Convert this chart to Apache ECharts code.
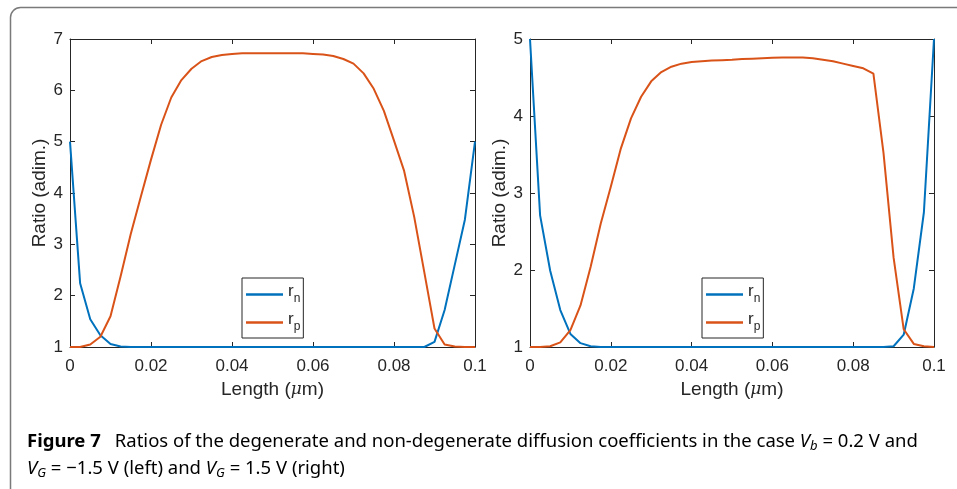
<!DOCTYPE html>
<html>
<head>
<meta charset="utf-8">
<script src="https://cdn.jsdelivr.net/npm/echarts@6/dist/echarts.min.js"></script>
<style>
  html, body { margin: 0; padding: 0; background: #fff; }
  #main { width: 957px; height: 489px; }
</style>
</head>
<body>
<div id="main"></div>
<script>
// x positions (Length, µm)
var lengths = [0, 0.0025, 0.005, 0.0075, 0.01, 0.0125, 0.015, 0.0175, 0.02, 0.0225,
  0.025, 0.0275, 0.03, 0.0325, 0.035, 0.0375, 0.04, 0.0425, 0.045, 0.0475,
  0.05, 0.0525, 0.055, 0.0575, 0.06, 0.0625, 0.065, 0.0675, 0.07, 0.0725,
  0.075, 0.0775, 0.08, 0.0825, 0.085, 0.0875, 0.09, 0.0925, 0.095, 0.0975, 0.1];

// left panel, V_G = -1.5 V
var leftRn = [5.0, 2.24, 1.54, 1.23, 1.06, 1.01, 1.0, 1.0, 1.0, 1.0,
  1.0, 1.0, 1.0, 1.0, 1.0, 1.0, 1.0, 1.0, 1.0, 1.0,
  1.0, 1.0, 1.0, 1.0, 1.0, 1.0, 1.0, 1.0, 1.0, 1.0,
  1.0, 1.0, 1.0, 1.0, 1.0, 1.0, 1.1, 1.72, 2.6, 3.48, 5.0];
var leftRp = [1.0, 1.0, 1.05, 1.2, 1.6, 2.38, 3.2, 3.93, 4.65, 5.33,
  5.86, 6.2, 6.42, 6.57, 6.65, 6.69, 6.71, 6.72, 6.72, 6.72,
  6.72, 6.72, 6.72, 6.72, 6.71, 6.7, 6.67, 6.61, 6.52, 6.33,
  6.03, 5.6, 5.02, 4.43, 3.53, 2.45, 1.36, 1.05, 1.01, 1.0, 1.0];

// right panel, V_G = 1.5 V
var rightRn = [5.0, 2.71, 1.99, 1.48, 1.17, 1.05, 1.01, 1.0, 1.0, 1.0,
  1.0, 1.0, 1.0, 1.0, 1.0, 1.0, 1.0, 1.0, 1.0, 1.0,
  1.0, 1.0, 1.0, 1.0, 1.0, 1.0, 1.0, 1.0, 1.0, 1.0,
  1.0, 1.0, 1.0, 1.0, 1.0, 1.0, 1.01, 1.16, 1.76, 2.75, 5.0];
var rightRp = [1.0, 1.0, 1.01, 1.06, 1.22, 1.54, 2.04, 2.6, 3.08, 3.58,
  3.97, 4.25, 4.45, 4.57, 4.64, 4.68, 4.7, 4.71, 4.72, 4.725,
  4.73, 4.74, 4.745, 4.75, 4.755, 4.76, 4.76, 4.76, 4.75, 4.73,
  4.71, 4.68, 4.65, 4.62, 4.55, 3.52, 2.16, 1.23, 1.04, 1.01, 1.0];

var xTicks = [0, 0.02, 0.04, 0.06, 0.08, 0.1];

var BLUE = '#0072BD';
var ORANGE = '#D95319';
var AX = '#262626';
var FONT = 'Liberation Sans, Arial';
var CAPFONT = 'Noto Sans';

function pairs(xs, ys) {
  return xs.map(function (x, i) { return [x, ys[i]]; });
}

function xAxisOf(grid, bottom) {
  return {
    type: 'value', gridIndex: grid, position: bottom ? 'bottom' : 'top',
    min: 0, max: 0.1, interval: 0.02,
    name: bottom ? '{a|Length (}{mu|μ}{a|m)}' : '',
    nameLocation: 'middle', nameGap: 33,
    nameTextStyle: {
      rich: {
        a: { fontFamily: FONT, fontSize: 19, color: AX },
        mu: { fontFamily: 'DejaVu Serif', fontStyle: 'italic', fontSize: 17, color: AX }
      }
    },
    axisLine: { show: true, onZero: false, lineStyle: { color: AX, width: 1 } },
    axisTick: { show: true, inside: true, length: 5, lineStyle: { color: AX } },
    axisLabel: { show: bottom, color: AX, fontFamily: FONT, fontSize: 17, margin: 11,
      formatter: function (v) { return xTicks.indexOf(Math.round(v * 100) / 100) >= 0 ? String(Math.round(v * 100) / 100) : ''; } },
    splitLine: { show: false }
  };
}

function yAxisOf(grid, left, max) {
  return {
    type: 'value', gridIndex: grid, position: left ? 'left' : 'right',
    min: 1, max: max, interval: 1,
    name: left ? 'Ratio (adim.)' : '',
    nameLocation: 'middle', nameGap: 18,
    nameTextStyle: { fontFamily: FONT, fontSize: 19, color: AX },
    axisLine: { show: true, onZero: false, lineStyle: { color: AX, width: 1 } },
    axisTick: { show: true, inside: true, length: 5, lineStyle: { color: AX } },
    axisLabel: { show: left, color: AX, fontFamily: FONT, fontSize: 17, margin: 7 },
    splitLine: { show: false }
  };
}

function lineSeries(name, xi, yi, data, color) {
  return {
    name: name, type: 'line', xAxisIndex: xi, yAxisIndex: yi,
    data: pairs(lengths, data), symbol: 'none', showSymbol: false,
    lineStyle: { color: color, width: 2 }, itemStyle: { color: color },
    silent: true
  };
}

var legendRich = {
  r: { fontFamily: FONT, fontSize: 17, color: AX, padding: [0, 0, 6, 0] },
  s: { fontFamily: FONT, fontSize: 12, color: AX, padding: [9, 0, 0, 0] }
};
function legendOf(left) {
  return {
    left: left, top: 278, orient: 'vertical',
    data: ['rn', 'rp'],
    icon: 'rect',
    itemWidth: 37, itemHeight: 2.5, itemGap: 6,
    padding: [5, 3, 5, 4],
    backgroundColor: '#fff', borderColor: AX, borderWidth: 1, borderRadius: 0,
    selectedMode: false,
    formatter: function (n) { return '{r|r}{s|' + n.charAt(1) + '}'; },
    textStyle: { rich: legendRich }
  };
}

var capRich = {
  b: { fontFamily: CAPFONT, fontWeight: 'bold', fontSize: 18.5, color: '#222', lineHeight: 27 },
  n: { fontFamily: CAPFONT, fontSize: 18.5, color: '#222', lineHeight: 27 },
  i: { fontFamily: CAPFONT, fontStyle: 'italic', fontSize: 18.5, color: '#222', lineHeight: 27 },
  s: { fontFamily: CAPFONT, fontStyle: 'italic', fontSize: 13, color: '#222', lineHeight: 27, padding: [10, 0, 0, 0] }
};

var option = {
  animation: false,
  backgroundColor: '#fff',
  grid: [
    { left: 70, top: 39, width: 405, height: 308 },
    { left: 530, top: 39, width: 404, height: 308 }
  ],
  xAxis: [xAxisOf(0, true), xAxisOf(0, false), xAxisOf(1, true), xAxisOf(1, false)],
  yAxis: [yAxisOf(0, true, 7), yAxisOf(0, false, 7), yAxisOf(1, true, 5), yAxisOf(1, false, 5)],
  legend: [legendOf(242), legendOf(702)],
  series: [
    lineSeries('rn', 0, 0, leftRn, BLUE),
    lineSeries('rp', 0, 0, leftRp, ORANGE),
    lineSeries('rn', 2, 2, rightRn, BLUE),
    lineSeries('rp', 2, 2, rightRp, ORANGE)
  ],
  graphic: [
    {
      type: 'rect', silent: true,
      shape: { x: 10.5, y: 7.5, width: 1000, height: 530, r: 10 },
      style: { fill: 'none', stroke: '#7a7a7a', lineWidth: 1.5 }
    },
    {
      type: 'text', left: 27, top: 430, silent: true,
      style: {
        text: '{b|Figure 7}{n|\u2002 Ratios of the degenerate and non-degenerate diffusion coefficients in the case }{i|V}{s|b}{n| = 0.2 V and}\n' +
              '{i|V}{s|G}{n| = −1.5 V (left) and }{i|V}{s|G}{n| = 1.5 V (right)}',
        rich: capRich
      }
    }
  ]
};

var chart = echarts.init(document.getElementById('main'));
chart.setOption(option);
</script>
</body>
</html>
